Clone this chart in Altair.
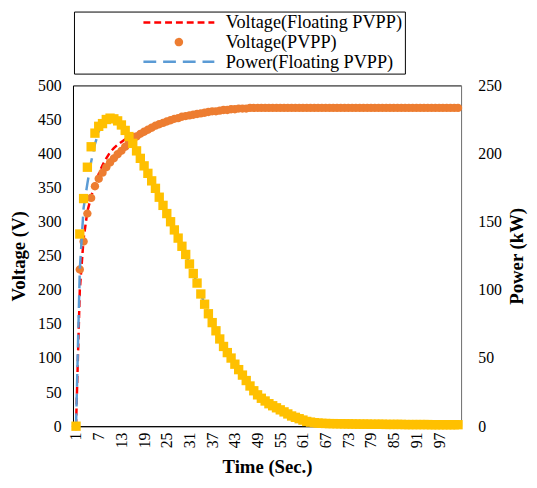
import altair as alt
import pandas as pd

S_VF = "Voltage(Floating PVPP)"
S_VP = "Voltage(PVPP)"
S_PF = "Power(Floating PVPP)"
S_PP = "Power(PVPP)"

time_s = list(range(1, 103))

voltage_pvpp = [0, 230, 271, 312, 335, 352, 363, 372, 380, 387,
                393, 399, 404, 410, 416, 421, 425, 429, 432, 435,
                438, 441, 443, 445, 447, 449, 451, 452, 454, 455,
                456, 457, 458, 459, 460, 461, 462, 462, 463, 464,
                464, 465, 465, 466, 466, 466, 467, 467, 467, 467,
                467, 467, 467, 467, 467, 467, 467, 467, 467, 467,
                467, 467, 467, 467, 467, 467, 467, 467, 467, 467,
                467, 467, 467, 467, 467, 467, 467, 467, 467, 467,
                467, 467, 467, 467, 467, 467, 467, 467, 467, 467,
                467, 467, 467, 467, 467, 467, 467, 467, 467, 467,
                467, 467]

voltage_floating = [0, 200, 275, 315, 337, 355, 370, 383, 393, 402,
                    408, 413, 417, 421, 424, 427, 430, 432, 434, 437,
                    440, 442, 444, 446, 448, 450, 452, 453, 455, 456,
                    457, 458, 459, 460, 461, 462, 463, 463, 464, 465,
                    465, 466, 466, 467, 467, 467, 468, 468, 468, 468,
                    468, 468, 468, 468, 468, 468, 468, 468, 468, 468,
                    468, 468, 468, 468, 468, 468, 468, 468, 468, 468,
                    468, 468, 468, 468, 468, 468, 468, 468, 468, 468,
                    468, 468, 468, 468, 468, 468, 468, 468, 468, 468,
                    468, 468, 468, 468, 468, 468, 468, 468, 468, 468,
                    468, 468]

power_pvpp = [0, 141, 167, 190, 205, 215, 220, 222, 225, 226,
              225.5, 224, 221, 217, 212.5, 207.5, 202, 196.5, 191, 185.5,
              180, 174.5, 168, 162, 156, 150, 144, 138, 132, 126,
              119, 112, 105, 97, 89.5, 82.5, 76, 70, 64, 58.5,
              54, 50, 45.5, 41.5, 37.5, 33.5, 29.5, 26, 23, 20.5,
              18.5, 16.5, 15, 13.5, 12, 10.5, 9, 7.5, 6.5, 5.5,
              4.5, 3.5, 3, 2.6, 2.3, 2.1, 2.0, 1.9, 1.9, 1.8,
              1.8, 1.7, 1.7, 1.6, 1.6, 1.5, 1.5, 1.5, 1.4, 1.4,
              1.4, 1.4, 1.3, 1.3, 1.3, 1.3, 1.3, 1.2, 1.2, 1.2,
              1.2, 1.2, 1.2, 1.2, 1.1, 1.1, 1.1, 1.1, 1.1, 1.1,
              1.1, 1.1]

power_floating = [0, 115, 160, 178, 194, 207, 216, 222, 225, 226,
                  225.5, 224, 221, 217, 212.5, 207.5, 202, 196.5, 191, 185.5,
                  180, 174.5, 168, 162, 156, 150, 144, 138, 132, 126,
                  119, 112, 105, 97, 89.5, 82.5, 76, 70, 64, 58.5,
                  54, 50, 45.5, 41.5, 37.5, 33.5, 29.5, 26, 23, 20.5,
                  18.5, 16.5, 15, 13.5, 12, 10.5, 9, 7.5, 6.5, 5.5,
                  4.5, 3.5, 3, 2.6, 2.3, 2.1, 2.0, 1.9, 1.9, 1.8,
                  1.8, 1.7, 1.7, 1.6, 1.6, 1.5, 1.5, 1.5, 1.4, 1.4,
                  1.4, 1.4, 1.3, 1.3, 1.3, 1.3, 1.3, 1.2, 1.2, 1.2,
                  1.2, 1.2, 1.2, 1.2, 1.1, 1.1, 1.1, 1.1, 1.1, 1.1,
                  1.1, 1.1]

x_tick_labels = list(range(1, 98, 6))
voltage_ticks = list(range(0, 501, 50))
power_ticks = list(range(0, 251, 50))

legend_series = [S_VF, S_VP, S_PF]
legend_colors = ["#FF0000", "#ED7D31", "#5B9BD5"]
# legend glyphs: dashed line (with an invisible move-to that widens the legend box) and a dot
LINE_PATH = "M-1,0L1,0M7.86,0"
DOT_PATH = "M0.085,0A0.085,0.085,0,1,1,-0.085,0A0.085,0.085,0,1,1,0.085,0Z"
legend_shapes = [LINE_PATH, DOT_PATH, LINE_PATH]
legend_dashes = [[7, 4], [1, 0], [13, 7]]

rows = []
for name, vals in [(S_VF, voltage_floating), (S_VP, voltage_pvpp),
                   (S_PF, power_floating), (S_PP, power_pvpp)]:
    for t, v in zip(time_s, vals):
        rows.append({"t": t, "series": name, "value": v})
df = pd.DataFrame(rows)

FONT = "Liberation Serif"

legend = alt.Legend(
    title=None, orient="none", legendX=1, legendY=-75, direction="vertical",
    strokeColor="black", padding=2, rowPadding=1, clipHeight=18,
    symbolSize=5184, symbolOffset=67, labelOffset=10, symbolStrokeWidth=2.5,
    labelFont=FONT, labelFontSize=18.5, labelColor="black", labelLimit=600,
)

color = alt.Color("series:N", scale=alt.Scale(domain=legend_series, range=legend_colors),
                  legend=legend)
shape = alt.Shape("series:N", scale=alt.Scale(domain=legend_series, range=legend_shapes),
                  legend=legend)
dash = alt.StrokeDash("series:N", scale=alt.Scale(domain=legend_series, range=legend_dashes),
                      legend=legend)

x_enc = alt.X("t:O", scale=alt.Scale(type="point", padding=0.8),
              axis=alt.Axis(values=x_tick_labels, labelAngle=270, title="Time (Sec.)",
                            ticks=False, grid=False, domainColor="black", labelPadding=6,
                            titlePadding=10))

yv = alt.Y("value:Q", scale=alt.Scale(domain=[0, 500]),
           axis=alt.Axis(values=voltage_ticks, title="Voltage (V)", ticks=False, grid=False,
                         domainColor="black", labelPadding=12, titlePadding=9))
yp = alt.Y("value:Q", scale=alt.Scale(domain=[0, 250]),
           axis=alt.Axis(values=power_ticks, title="Power (kW)", orient="right", ticks=False,
                         grid=False, domainColor="#7f7f7f", labelPadding=17, titlePadding=25,
                         titleAngle=270))

base = alt.Chart(df)

red = base.transform_filter(alt.datum.series == S_VF).mark_line(
    strokeWidth=2.5).encode(x=x_enc, y=yv, color=color, strokeDash=dash)
orange = base.transform_filter(alt.datum.series == S_VP).mark_point(
    filled=True, size=10000, opacity=1).encode(x=x_enc, y=yv, color=color, shape=shape)
blue = base.transform_filter(alt.datum.series == S_PF).mark_line(
    strokeWidth=2.5).encode(x=x_enc, y=yp, color=color, strokeDash=dash)
yellow = base.transform_filter(alt.datum.series == S_PP).mark_point(
    shape="square", filled=True, size=90, opacity=1, color="#FFC000").encode(x=x_enc, y=yp)

chart = alt.layer(alt.layer(red, orange), alt.layer(blue, yellow)).resolve_scale(
    y="independent"
).properties(
    width=394, height=346,
    autosize=alt.AutoSizeParams(type="none"),
    padding={"left": 66, "top": 75, "right": 69, "bottom": 51},
).configure_view(stroke="black", strokeWidth=1).configure_axis(
    labelFont=FONT, labelFontSize=16, labelColor="black",
    titleFont=FONT, titleFontSize=19, titleFontWeight="bold", titleColor="black",
)

chart.save("out.html", embed_options={"renderer": "svg", "actions": False})
